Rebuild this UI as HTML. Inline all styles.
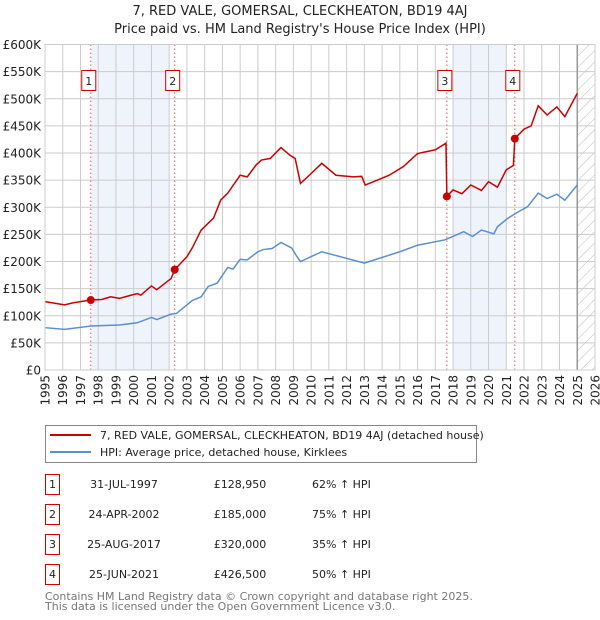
<!DOCTYPE html>
<html><head><meta charset="utf-8"><style>
body{margin:0;background:#fff;font-family:"Liberation Sans","DejaVu Sans",sans-serif}
#wrap{position:relative;width:600px;height:620px;overflow:hidden}
</style></head><body><div id="wrap">
<svg id="svg" width="600" height="620" xmlns="http://www.w3.org/2000/svg" style="font-family:'DejaVu Sans','Liberation Sans',sans-serif">
<defs><pattern id="hatch" width="8" height="8" patternUnits="userSpaceOnUse" patternTransform="rotate(45)"><line x1="0" y1="0" x2="0" y2="8" stroke="#bbb" stroke-width="1"/></pattern></defs>
<text x="300" y="15" text-anchor="middle" font-size="13" fill="#222">7, RED VALE, GOMERSAL, CLECKHEATON, BD19 4AJ</text>
<text x="300" y="33" text-anchor="middle" font-size="13" fill="#222">Price paid vs. HM Land Registry's House Price Index (HPI)</text>
<g id="plot"></g>
<g>
<rect x="45.5" y="425.5" width="431" height="37" fill="#fff" stroke="#888"/>
<line x1="50" y1="435" x2="91" y2="435" stroke="#cc0000" stroke-width="2"/>
<text x="100" y="439" font-size="11" fill="#222">7, RED VALE, GOMERSAL, CLECKHEATON, BD19 4AJ (detached house)</text>
<line x1="50" y1="452" x2="91" y2="452" stroke="#5b8fd0" stroke-width="2"/>
<text x="100" y="456" font-size="11" fill="#222">HPI: Average price, detached house, Kirklees</text>
</g>
<g id="table" font-size="11" fill="#222"></g>
<text x="45" y="600" font-size="11" fill="#777">Contains HM Land Registry data © Crown copyright and database right 2025.</text>
<text x="45" y="610" font-size="11" fill="#777">This data is licensed under the Open Government Licence v3.0.</text>
</svg>
<script>
const hpiYears=[1995,1996.1,1997.6,1999.2,2000.2,2001,2001.3,2002.1,2002.4,2003.3,2003.8,2004.2,2004.7,2005.3,2005.6,2006,2006.4,2007,2007.3,2007.8,2008.3,2008.9,2009.2,2009.4,2010.6,2013.0,2015.0,2016.0,2017.55,2018.6,2019.1,2019.6,2020.3,2020.5,2021.1,2021.7,2022.2,2022.8,2023.3,2023.85,2024.3,2025.0];
const hpiValues=[78,75,81,83,87,97,93,103,104,128,135,154,160,189,186,204,203,218,222,224,235,225,209,200,218,197,218,230,240,255,246,258,251,264,280,292,301,326,316,324,313,341];
const redYears=[1995,1996.1,1996.6,1997.58,1998.2,1998.7,1999.2,2000.2,2000.4,2001,2001.3,2002,2002.1,2002.31,2003.0,2003.3,2003.8,2004.5,2004.9,2005.3,2006,2006.4,2006.9,2007.2,2007.7,2008.3,2008.8,2009.1,2009.4,2009.9,2010.6,2011.4,2012.4,2012.85,2013.05,2014.4,2015.2,2016.0,2017,2017.6,2017.65,2018,2018.5,2019.0,2019.6,2020.0,2020.5,2021.0,2021.4,2021.48,2022.0,2022.4,2022.8,2023.3,2023.85,2024.3,2025.0];
const redValues=[126,120,124,128.95,130,135,132,141,138,155,148,166,168,185,209,225,258,280,313,326,359,356,378,387,390,410,396,390,344,359,381,359,356,357,341,359,375,399,406,418,320,332,325,341,331,347,337,369,377,426.5,444,450,487,470,485,467,510];
const saleLabels=["1","2","3","4"];
const saleYears=[1997.58,2002.31,2017.65,2021.48];
const salePrices=[128.95,185,320,426.5];
const saleDates=["31-JUL-1997","24-APR-2002","25-AUG-2017","25-JUN-2021"];
const salePriceText=["£128,950","£185,000","£320,000","£426,500"];
const saleHpiText=["62% ↑ HPI","75% ↑ HPI","35% ↑ HPI","50% ↑ HPI"];
const yTicks=[0,50,100,150,200,250,300,350,400,450,500,550,600];
const yTickLabels=["£0","£50K","£100K","£150K","£200K","£250K","£300K","£350K","£400K","£450K","£500K","£550K","£600K"];
const xTicks=[1995,1996,1997,1998,1999,2000,2001,2002,2003,2004,2005,2006,2007,2008,2009,2010,2011,2012,2013,2014,2015,2016,2017,2018,2019,2020,2021,2022,2023,2024,2025,2026];
const shadeRanges=[[1997.58,2002.0],[2018,2021]];

const NS="http://www.w3.org/2000/svg";
const X0=45,X1=595,Y0=370,Y1=44.5;
const xs=y=>X0+(y-1995)/(2026-1995)*(X1-X0);
const ys=v=>Y0-v/600*(Y0-Y1);
const plot=document.getElementById('plot');
function mk(tag,attrs,parent){const e=document.createElementNS(NS,tag);for(const k in attrs)e.setAttribute(k,attrs[k]);(parent||plot).appendChild(e);return e;}
shadeRanges.forEach(r=>{const e=mk('rect',{x:xs(r[0]),y:Y1,width:xs(r[1])-xs(r[0]),height:Y0-Y1,fill:'#eef3fc'});

});
const h=mk('rect',{x:xs(2025),y:Y1,width:X1-xs(2025),height:Y0-Y1,fill:'url(#hatch)'});


xTicks.forEach(t=>{const l=mk('line',{x1:xs(t),x2:xs(t),y1:Y1,y2:Y0,stroke:'#ccc'});


const tx=mk('text',{x:0,y:0,transform:`translate(${xs(t)+4.5},375) rotate(-90)`,'text-anchor':'end','font-size':'12',fill:'#222'});


tx.textContent=t;});
yTicks.forEach((t,i)=>{const l=mk('line',{x1:X0,x2:X1,y1:ys(t),y2:ys(t),stroke:'#ccc'});


const tx=mk('text',{x:41,y:ys(t)+4.5,'text-anchor':'end','font-size':'12',fill:'#222'});


tx.textContent=yTickLabels[i];});
const vl=mk('line',{x1:xs(2025),x2:xs(2025),y1:Y1,y2:Y0,stroke:'#999','stroke-width':1.5});


saleYears.forEach((s,i)=>{const l=mk('line',{x1:xs(s),x2:xs(s),y1:Y1,y2:Y0,stroke:'#e06060','stroke-dasharray':'1.5,2.5'});

});
const hp=mk('polyline',{points:hpiYears.map((y,i)=>xs(y)+','+ys(hpiValues[i])).join(' '),fill:'none',stroke:'#5b8fd0','stroke-width':1.5});


const rp=mk('polyline',{points:redYears.map((y,i)=>xs(y)+','+ys(redValues[i])).join(' '),fill:'none',stroke:'#cc0000','stroke-width':1.5});


saleYears.forEach((s,i)=>{const c=mk('circle',{cx:xs(s),cy:ys(salePrices[i]),r:4,fill:'#cc0000'});


const b=mk('rect',{x:xs(s)-9,y:70.5,width:14,height:20,fill:'#fff',stroke:'#cc0000'});


const t=mk('text',{x:xs(s)-2,y:85,'text-anchor':'middle','font-size':'11',fill:'#222'});


t.textContent=saleLabels[i];});
const br=mk('rect',{x:X0,y:Y1,width:X1-X0,height:Y0-Y1,fill:'none',stroke:'#ccc'});


const tb=document.getElementById('table');
saleLabels.forEach((lab,i)=>{const yy=485+i*30;
const b=mk('rect',{x:45.5,y:yy-10.5,width:14,height:20,fill:'#fff',stroke:'#cc0000'},tb);


const cols=[[52.5,lab,'middle'],[124,saleDates[i],'middle'],[240,salePriceText[i],'middle'],[312,saleHpiText[i],'start']];
cols.forEach(c=>{const t=mk('text',{x:c[0],y:yy+3,'text-anchor':c[2]},tb);


t.textContent=c[1];});});
</script>
</div></body></html>
